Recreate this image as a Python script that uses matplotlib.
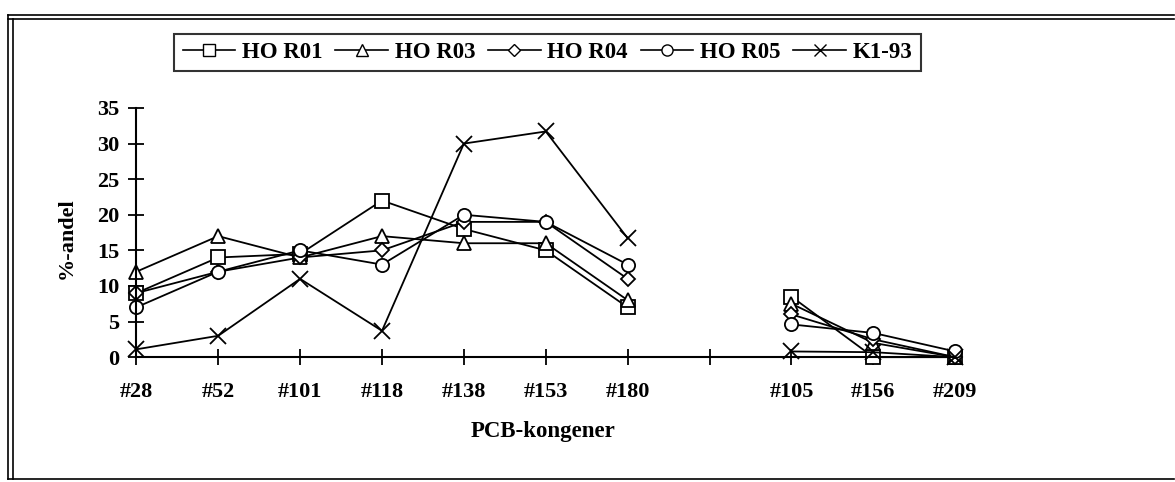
import numpy as np
import matplotlib
matplotlib.use("Agg")
import matplotlib.pyplot as plt
from matplotlib.lines import Line2D

# kategorier (tom plads mellem #180 og #105)
kongener = ["#28", "#52", "#101", "#118", "#138", "#153", "#180", "", "#105", "#156", "#209"]

nan = np.nan
hor01 = [9, 14, 14.5, 22, 18, 15, 7, nan, 8.5, 0, 0]
hor03 = [12, 17, 14, 17, 16, 16, 8, nan, 7.5, 2, 0]
hor04 = [9, 12, 14, 15, 19, 19, 11, nan, 6, 2.5, 0]
hor05 = [7, 12, 15, 13, 20, 19, 13, nan, 4.6, 3.4, 0.8]
k193 = [1.1, 3, 11, 3.7, 30, 31.7, 16.7, nan, 0.8, 0.7, 0]

serier = ["HO R01", "HO R03", "HO R04", "HO R05", "K1-93"]
mark = ["s", "^", "D", "o", "x"]

plt.rcParams["font.family"] = ["Liberation Serif", "DejaVu Serif"]
plt.rcParams["font.weight"] = "bold"

fig = plt.figure(figsize=(11.75, 4.82), dpi=100)
ax = fig.add_axes([0.116, 0.259, 0.697, 0.517])

x = np.arange(len(kongener))
for data, m in zip([hor01, hor03, hor04, hor05, k193], mark):
    ms = 7.5 if m == "D" else 9.5
    if m == "x":
        ms = 11
    ax.plot(x, data, color="black", lw=1.3, marker=m, ms=ms,
            mfc="white", mec="black", mew=1.3, clip_on=False)

ax.set_xlim(0, 10)
ax.set_ylim(0, 35)
ax.set_yticks(range(0, 36, 5))
ax.set_xticks(x)
ax.set_xticklabels(kongener)
for s in ["top", "right"]:
    ax.spines[s].set_visible(False)
ax.spines["left"].set_linewidth(1.5)
ax.spines["bottom"].set_linewidth(1.5)
ax.tick_params(direction="inout", length=12, width=1.3, labelsize=16, pad=6)
ax.tick_params(axis="x", pad=12)
for lab in ax.get_xticklabels() + ax.get_yticklabels():
    lab.set_fontweight("bold")

fig.text(0.057, 0.505, "%-andel", rotation=90, ha="center", va="center",
         fontsize=16, fontweight="bold")
fig.text(0.462, 0.104, "PCB-kongener", ha="center", va="center",
         fontsize=16.5, fontweight="bold")

handles = [Line2D([], [], color="black", lw=1.2, marker=m,
                  ms=(6 if m == "D" else 8), mfc="white", mec="black")
           for m in mark]
leg = fig.legend(handles, serier, ncol=5, loc="center",
                 bbox_to_anchor=(0.466, 0.892), frameon=True, fancybox=False,
                 handlelength=2.3, handletextpad=0.3, columnspacing=0.55,
                 borderpad=0.35, prop={"size": 16.5, "weight": "bold"})
leg.get_frame().set_edgecolor("black")
leg.get_frame().set_linewidth(1.5)

# ramme rundt om figuren
for xs, ys in [([0.007, 0.999], [0.969, 0.969]), ([0.007, 0.999], [0.961, 0.961]),
               ([0.007, 0.007], [0.969, 0.006]), ([0.011, 0.011], [0.961, 0.006]),
               ([0.007, 0.999], [0.006, 0.006])]:
    fig.add_artist(Line2D(xs, ys, color="black", lw=1.2, transform=fig.transFigure))

fig.savefig("out.png", dpi=100)
